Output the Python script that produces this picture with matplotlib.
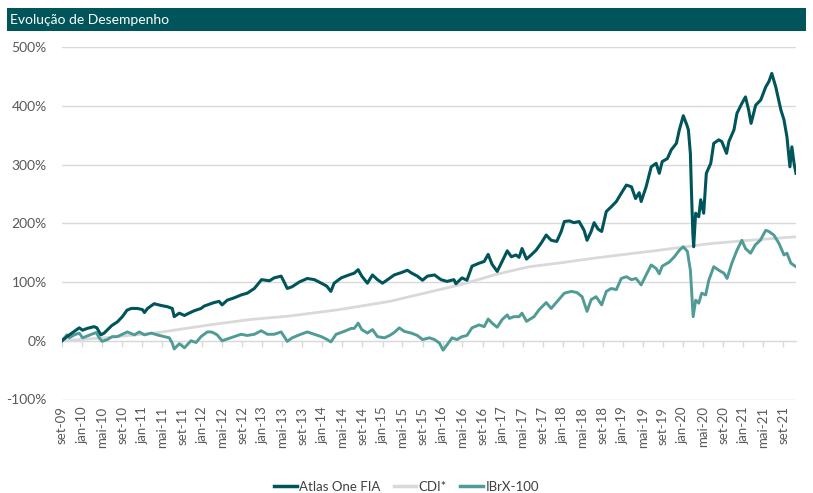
import matplotlib
matplotlib.use("Agg")
import matplotlib.pyplot as plt
import pandas as pd
from matplotlib.patches import Rectangle
from matplotlib.ticker import FuncFormatter

plt.rcParams['font.family'] = ['Lato', 'DejaVu Sans']

title = "Evolução de Desempenho"
series_names = ["Atlas One FIA", "CDI*", "IBrX-100"]

atlas_dates = [
    '2009-09-01', '2009-10-01', '2009-11-15', '2009-12-15', '2010-01-04', '2010-02-01', '2010-03-15',
    '2010-04-01', '2010-04-25', '2010-05-15', '2010-07-01', '2010-08-03', '2010-09-03', '2010-10-01',
    '2010-10-27', '2010-12-03', '2011-01-03', '2011-01-15', '2011-02-03', '2011-03-15', '2011-04-27',
    '2011-06-03', '2011-07-03', '2011-07-15', '2011-08-15', '2011-09-15', '2011-10-13', '2011-11-13',
    '2011-12-25', '2012-01-13', '2012-02-13', '2012-03-13', '2012-04-13', '2012-05-01', '2012-06-01',
    '2012-07-13', '2012-08-25', '2012-10-01', '2012-11-13', '2012-12-27', '2013-02-13', '2013-03-13',
    '2013-04-25', '2013-05-13', '2013-06-01', '2013-07-01', '2013-08-13', '2013-10-01', '2013-11-13',
    '2013-12-25', '2014-01-27', '2014-02-21', '2014-03-13', '2014-04-25', '2014-06-01', '2014-07-13',
    '2014-08-06', '2014-08-28', '2014-10-01', '2014-11-01', '2014-12-01', '2015-01-01', '2015-02-01',
    '2015-03-13', '2015-04-25', '2015-06-01', '2015-06-28', '2015-08-01', '2015-09-01', '2015-10-01',
    '2015-11-13', '2015-12-22', '2016-01-28', '2016-03-10', '2016-03-22', '2016-04-28', '2016-05-28',
    '2016-06-28', '2016-08-10', '2016-09-10', '2016-10-04', '2016-10-28', '2016-11-28', '2016-12-28',
    '2017-01-28', '2017-02-22', '2017-03-22', '2017-04-10', '2017-04-28', '2017-05-25', '2017-06-22',
    '2017-07-22', '2017-08-22', '2017-09-22', '2017-10-22', '2017-11-25', '2017-12-22', '2018-01-10',
    '2018-02-10', '2018-03-10', '2018-04-10', '2018-05-10', '2018-05-28', '2018-06-22', '2018-07-10',
    '2018-08-03', '2018-08-25', '2018-09-22', '2018-10-22', '2018-11-22', '2018-12-22', '2019-01-22',
    '2019-02-22', '2019-03-19', '2019-04-10', '2019-04-22', '2019-05-22', '2019-06-22', '2019-07-22',
    '2019-08-10', '2019-08-28', '2019-09-28', '2019-10-22', '2019-11-22', '2019-12-10', '2020-01-03',
    '2020-01-25', '2020-02-03', '2020-02-15', '2020-02-22', '2020-03-01', '2020-03-06', '2020-03-18',
    '2020-04-06', '2020-04-18', '2020-05-06', '2020-05-22', '2020-06-18', '2020-07-06', '2020-08-06',
    '2020-08-24', '2020-09-22', '2020-10-06', '2020-11-06', '2020-11-24', '2020-12-24', '2021-01-15',
    '2021-02-03', '2021-02-18', '2021-03-18', '2021-04-18', '2021-05-18', '2021-06-06', '2021-06-24',
    '2021-07-18', '2021-08-18', '2021-09-06', '2021-09-24', '2021-10-12', '2021-10-24', '2021-11-06',
    '2021-11-18']
atlas_values = [
    0, 7, 16, 22, 18, 21, 24,
    22, 10, 13, 26, 32, 41, 52,
    55, 55, 53, 48, 55, 63, 60,
    58, 55, 41, 47, 43, 47, 51,
    55, 59, 62, 65, 67, 61, 69,
    73, 78, 81, 89, 104, 102, 107,
    110, 100, 89, 92, 100, 106, 104,
    98, 93, 84, 98, 107, 111, 115,
    121, 110, 98, 112, 104, 98, 104,
    112, 116, 120, 115, 110, 103, 110,
    112, 104, 101, 104, 97, 107, 103,
    127, 132, 135, 147, 130, 118, 135,
    153, 143, 146, 142, 157, 139, 146,
    154, 166, 180, 171, 169, 186, 203,
    204, 201, 203, 188, 171, 186, 201,
    190, 186, 220, 228, 237, 251, 265,
    262, 242, 252, 237, 262, 296, 302,
    285, 305, 310, 325, 336, 359, 383,
    367, 359, 319, 251, 183, 160, 217,
    211, 240, 217, 285, 302, 336, 342,
    339, 319, 339, 359, 387, 404, 415,
    393, 370, 401, 410, 432, 441, 455,
    432, 393, 376, 347, 296, 330, 302,
    285]

cdi_dates = ['2009-09-01', '2010-05-15', '2011-03-15', '2012-03-13', '2012-10-13', '2013-06-13',
             '2014-04-13', '2015-02-13', '2015-12-13', '2016-04-28', '2016-11-22', '2017-06-10',
             '2017-12-28', '2018-07-22', '2019-02-10', '2019-07-10', '2019-11-22', '2020-06-06',
             '2020-12-24', '2021-11-18']
cdi_values = [0, 5, 13, 28, 36, 42,
              53, 67, 87, 96, 113, 126,
              133, 141, 148, 153, 158, 165,
              170, 177]

ibrx_dates = [
    '2009-09-01', '2009-10-01', '2009-10-15', '2009-11-15', '2009-12-15', '2010-01-04', '2010-02-01',
    '2010-02-27', '2010-03-28', '2010-04-15', '2010-05-03', '2010-06-03', '2010-07-03', '2010-08-03',
    '2010-09-03', '2010-10-03', '2010-11-15', '2010-12-15', '2011-01-15', '2011-02-26', '2011-04-03',
    '2011-05-15', '2011-06-15', '2011-07-03', '2011-07-15', '2011-08-15', '2011-09-15', '2011-10-25',
    '2011-11-25', '2011-12-25', '2012-02-01', '2012-02-25', '2012-03-13', '2012-04-01', '2012-05-01',
    '2012-06-01', '2012-07-13', '2012-08-25', '2012-10-01', '2012-11-13', '2012-12-25', '2013-02-01',
    '2013-03-13', '2013-04-25', '2013-06-01', '2013-07-01', '2013-08-13', '2013-10-01', '2013-11-13',
    '2013-12-25', '2014-01-30', '2014-02-21', '2014-03-25', '2014-05-13', '2014-06-25', '2014-07-13',
    '2014-08-06', '2014-08-28', '2014-10-01', '2014-11-01', '2014-12-01', '2015-01-13', '2015-02-13',
    '2015-03-13', '2015-04-13', '2015-05-13', '2015-06-25', '2015-08-01', '2015-09-01', '2015-10-13',
    '2015-11-13', '2015-12-13', '2016-01-04', '2016-01-28', '2016-02-28', '2016-03-28', '2016-04-28',
    '2016-05-28', '2016-06-28', '2016-08-10', '2016-09-10', '2016-10-04', '2016-10-28', '2016-11-28',
    '2016-12-28', '2017-01-28', '2017-02-10', '2017-03-10', '2017-04-10', '2017-04-28', '2017-05-25',
    '2017-07-10', '2017-08-10', '2017-09-22', '2017-10-22', '2017-11-28', '2018-01-10', '2018-02-22',
    '2018-03-28', '2018-04-28', '2018-05-28', '2018-06-22', '2018-07-22', '2018-08-25', '2018-09-22',
    '2018-10-22', '2018-11-22', '2018-12-22', '2019-01-22', '2019-02-22', '2019-03-22', '2019-04-22',
    '2019-05-22', '2019-06-22', '2019-07-22', '2019-08-10', '2019-08-28', '2019-10-10', '2019-11-10',
    '2019-12-10', '2020-01-03', '2020-01-28', '2020-02-15', '2020-02-25', '2020-03-03', '2020-03-18',
    '2020-04-06', '2020-04-24', '2020-05-18', '2020-06-06', '2020-07-06', '2020-08-06', '2020-09-06',
    '2020-09-25', '2020-10-24', '2020-11-24', '2020-12-24', '2021-01-15', '2021-02-15', '2021-03-15',
    '2021-04-15', '2021-05-18', '2021-06-06', '2021-07-06', '2021-08-06', '2021-09-06', '2021-09-24',
    '2021-10-18', '2021-11-18']
ibrx_values = [
    0, 10, 5, 10, 13, 5, 8,
    11, 14, 5, -1, 2, 7, 7,
    11, 15, 10, 15, 10, 13, 10,
    7, 5, -4, -14, -5, -12, 0,
    -3, 7, 15, 15, 13, 10, 0,
    3, 7, 11, 9, 11, 17, 11,
    11, 15, -1, 5, 10, 15, 11,
    7, 2, -2, 11, 16, 21, 21,
    30, 19, 13, 19, 7, 5, 9,
    14, 22, 16, 13, 9, 2, 5,
    2, -4, -16, -7, 5, 2, 7,
    9, 22, 27, 24, 37, 30, 23,
    36, 44, 38, 41, 41, 47, 33,
    41, 53, 65, 55, 67, 81, 84,
    82, 75, 50, 70, 75, 61, 84,
    89, 87, 106, 109, 104, 106, 95,
    112, 129, 123, 114, 127, 134, 143,
    154, 160, 152, 120, 75, 41, 69,
    64, 81, 78, 103, 126, 120, 115,
    106, 132, 154, 171, 157, 149, 163,
    171, 188, 186, 180, 166, 146, 149,
    132, 126]

month_abbr_pt = ['jan', 'fev', 'mar', 'abr', 'mai', 'jun', 'jul', 'ago', 'set', 'out', 'nov', 'dez']
y_ticks = [-100, 0, 100, 200, 300, 400, 500]

TEAL = '#00555B'
IBRX = '#4F9B95'
CDI = '#D9D9D9'
GRID = '#D9D9D9'
TXT = '#595959'

W, H = 813, 493
fig = plt.figure(figsize=(W / 100, H / 100), dpi=100)

# title bar
fig.patches.append(Rectangle((7 / W, 1 - 31 / H), 799 / W, 23 / H, transform=fig.transFigure,
                             facecolor=TEAL, edgecolor='none', zorder=0))
fig.text(10 / W, 1 - 19.5 / H, title, color='white', fontsize=10, va='center', ha='left')

ax = fig.add_axes([62 / W, 1 - 399.5 / H, (796 - 62) / W, (399.5 - 47) / H])

a_d = pd.to_datetime(atlas_dates)
c_d = pd.to_datetime(cdi_dates)
i_d = pd.to_datetime(ibrx_dates)

ax.plot(c_d, cdi_values, color=CDI, lw=2.0, zorder=3, label=series_names[1])
ax.plot(i_d, ibrx_values, color=IBRX, lw=2.1, zorder=4, label=series_names[2])
ax.plot(a_d, atlas_values, color=TEAL, lw=2.2, zorder=5, label=series_names[0])

ax.set_xlim(a_d[0], a_d[-1])
ax.set_ylim(-100, 500)
ax.set_yticks(y_ticks)
ax.yaxis.set_major_formatter(FuncFormatter(lambda v, p: f"{int(v)}%"))
ax.yaxis.grid(True, color=GRID, lw=1)
ax.set_axisbelow(True)
for s in ['top', 'right', 'left']:
    ax.spines[s].set_visible(False)
ax.spines['bottom'].set_position(('data', 0))
ax.spines['bottom'].set_color(GRID)
ax.tick_params(axis='y', length=0, pad=11, labelcolor=TXT, labelsize=10)

tick_dates = pd.date_range('2009-09-01', '2021-09-01', freq='4MS')
tick_labels = [f"{month_abbr_pt[d.month - 1]}-{d.year % 100:02d}" for d in tick_dates]
ax.set_xticks(tick_dates)
ax.tick_params(axis='x', direction='out', length=4, color=GRID, width=1, labelbottom=False)

sec = ax.secondary_xaxis(0)
sec.set_xticks(tick_dates)
sec.set_xticklabels(tick_labels)
sec.tick_params(axis='x', length=0, rotation=90, labelsize=9.5, labelcolor=TXT, pad=5)
sec.spines['bottom'].set_visible(False)

handles, labels = ax.get_legend_handles_labels()
order = [2, 0, 1]
leg = fig.legend([handles[k] for k in order], [labels[k] for k in order], loc='center',
                 bbox_to_anchor=(0.5, 6 / H), ncol=3, frameon=False, fontsize=9.5,
                 handlelength=1.7, handletextpad=0.2, columnspacing=1.0)
for t in leg.get_texts():
    t.set_color('#404040')
for l in leg.get_lines():
    l.set_linewidth(2.5)

fig.savefig('out.png', dpi=100)
